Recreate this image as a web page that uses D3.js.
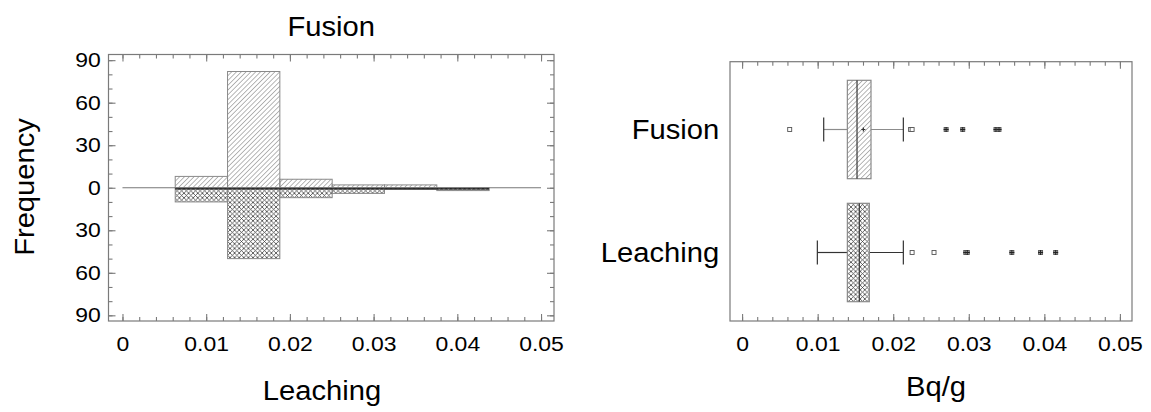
<!DOCTYPE html>
<html>
<head>
<meta charset="utf-8">
<script src="https://cdn.jsdelivr.net/npm/d3@7"></script>
<style>
  html, body { margin: 0; padding: 0; background: #fff; }
  svg { display: block; font-family: "Liberation Sans", Arial, sans-serif; }
</style>
</head>
<body>
<svg id="chart" width="1151" height="412"></svg>
<script>
// Histogram bin edges (Bq/g) shared by both samples
const binEdges = [0.0063, 0.01255, 0.0188, 0.02505, 0.0313, 0.03755, 0.0438];
// Counts per bin: Fusion drawn upward, Leaching drawn downward
const fusionCounts = [8, 82, 6, 2, 2, 0];
const leachingCounts = [10, 50, 7, 4, 1, 2];

// Frequency axis ticks (labels shown as absolute values)
const freqTicks = [90, 60, 30, 0, -30, -60, -90];
const xTicks = [0, 0.01, 0.02, 0.03, 0.04, 0.05];

// Box-and-whisker summaries
const boxCategories = ["Fusion", "Leaching"];
const boxWhiskerLow = [0.0108, 0.00996];
const boxQ1 = [0.01393, 0.01393];
const boxMedian = [0.01521, 0.01552];
const boxQ3 = [0.01706, 0.01684];
const boxWhiskerHigh = [0.02134, 0.02134];
const fusionMean = 0.01605;
const fusionOutliers = [0.0063, 0.0223, 0.0225, 0.0270, 0.0292, 0.0336, 0.0340];
const fusionFar = [false, false, false, true, true, true, true];
const leachingOutliers = [0.0225, 0.0254, 0.0296, 0.0298, 0.0357, 0.0395, 0.0415];
const leachingFar = [false, false, true, true, true, true, true];

const svg = d3.select("#chart");
const frameColor = "#7a7a7a";
const tickFont = 20.5;
const tickStretch = 1.12;
const titleFont = 27;
const titleStretch = 1.08;

// Fill patterns
const defs = svg.append("defs");
defs.append("pattern")
  .attr("id", "diag")
  .attr("patternUnits", "userSpaceOnUse")
  .attr("width", 3.4).attr("height", 3.4)
  .attr("patternTransform", "rotate(45)")
  .append("line")
  .attr("x1", 0).attr("y1", 0).attr("x2", 0).attr("y2", 3.4)
  .attr("stroke", "#5e5e5e").attr("stroke-width", 0.9);
const cross = defs.append("pattern")
  .attr("id", "cross")
  .attr("patternUnits", "userSpaceOnUse")
  .attr("width", 4.6).attr("height", 4.6);
cross.append("path")
  .attr("d", "M0,0L4.6,4.6M4.6,0L0,4.6")
  .attr("stroke", "#3e3e3e").attr("stroke-width", 0.8).attr("fill", "none");

// Title text helper (slightly widened glyphs)
function title(g, x, y, txt, rotate) {
  return g.append("text")
    .attr("transform", `translate(${x},${y})${rotate ? " rotate(-90)" : ""} scale(${titleStretch},1)`)
    .attr("text-anchor", "middle").attr("font-size", titleFont).attr("fill", "#000").text(txt);
}

// ---------- Left panel: back-to-back histogram ----------
const L = { left: 108.5, right: 554, top: 54.5, bottom: 321 };
const xL = d3.scaleLinear().domain([-0.00167, 0.05155]).range([L.left, L.right]);
const yL = d3.scaleLinear().domain([-94, 94]).range([L.bottom, L.top]);

const gL = svg.append("g");

const leachBins = leachingCounts.map((c, i) => ({ x0: binEdges[i], x1: binEdges[i + 1], c }));
const fusionBins = fusionCounts.map((c, i) => ({ x0: binEdges[i], x1: binEdges[i + 1], c }));

// Leaching bars (below zero)
gL.selectAll("rect.leach").data(leachBins.filter(d => d.c > 0)).join("rect")
  .attr("class", "leach")
  .attr("x", d => xL(d.x0)).attr("width", d => xL(d.x1) - xL(d.x0))
  .attr("y", yL(0)).attr("height", d => yL(-d.c) - yL(0))
  .attr("fill", "url(#cross)").attr("stroke", "#8a8a8a").attr("stroke-width", 1);

// Fusion bars (above zero)
gL.selectAll("rect.fusion").data(fusionBins.filter(d => d.c > 0)).join("rect")
  .attr("class", "fusion")
  .attr("x", d => xL(d.x0)).attr("width", d => xL(d.x1) - xL(d.x0))
  .attr("y", d => yL(d.c)).attr("height", d => yL(0) - yL(d.c))
  .attr("fill", "url(#diag)").attr("stroke", "#8a8a8a").attr("stroke-width", 1);

// zero reference line
gL.append("line")
  .attr("x1", xL(0)).attr("x2", xL(0.05))
  .attr("y1", yL(0)).attr("y2", yL(0))
  .attr("stroke", "#777").attr("stroke-width", 1);

// dark top edge of the downward bars
gL.selectAll("line.leachTop").data(leachBins.filter(d => d.c > 0)).join("line")
  .attr("class", "leachTop")
  .attr("x1", d => xL(d.x0)).attr("x2", d => xL(d.x1))
  .attr("y1", yL(0) + 1.2).attr("y2", yL(0) + 1.2)
  .attr("stroke", "#111").attr("stroke-width", 1.2);

// frame
gL.append("rect")
  .attr("x", L.left).attr("y", L.top)
  .attr("width", L.right - L.left).attr("height", L.bottom - L.top)
  .attr("fill", "none").attr("stroke", frameColor).attr("stroke-width", 1.2);

function styleAxis(g) {
  g.select(".domain").remove();
  g.selectAll(".tick line").attr("stroke", frameColor).attr("stroke-width", 1.1);
  g.selectAll(".tick text").attr("fill", "#000").attr("font-size", tickFont)
    .attr("font-family", "Liberation Sans, Arial, sans-serif")
    .attr("transform", `scale(${tickStretch},1)`);
}

const xMinor = d3.range(0, 0.0501, 0.002);
const yMinor = d3.range(-90, 91, 10);
const fmtX = d => d === 0 ? "0" : d3.format(".2f")(d);

// bottom axis with labels
gL.append("g").attr("transform", `translate(0,${L.bottom})`)
  .call(d3.axisBottom(xL).tickValues(xTicks).tickSizeInner(-7).tickSizeOuter(0).tickPadding(15).tickFormat(fmtX))
  .call(styleAxis);
gL.append("g").attr("transform", `translate(0,${L.bottom})`)
  .call(d3.axisBottom(xL).tickValues(xMinor).tickSizeInner(-4).tickSizeOuter(0).tickFormat(""))
  .call(styleAxis);
// top ticks
gL.append("g").attr("transform", `translate(0,${L.top})`)
  .call(d3.axisTop(xL).tickValues(xTicks).tickSizeInner(-7).tickSizeOuter(0).tickFormat(""))
  .call(styleAxis);
gL.append("g").attr("transform", `translate(0,${L.top})`)
  .call(d3.axisTop(xL).tickValues(xMinor).tickSizeInner(-4).tickSizeOuter(0).tickFormat(""))
  .call(styleAxis);
// left axis with labels
gL.append("g").attr("transform", `translate(${L.left},0)`)
  .call(d3.axisLeft(yL).tickValues(freqTicks).tickSizeInner(-7).tickSizeOuter(0).tickPadding(7)
    .tickFormat(d => Math.abs(d)))
  .call(styleAxis);
gL.append("g").attr("transform", `translate(${L.left},0)`)
  .call(d3.axisLeft(yL).tickValues(yMinor).tickSizeInner(-4).tickSizeOuter(0).tickFormat(""))
  .call(styleAxis);
// right ticks
gL.append("g").attr("transform", `translate(${L.right},0)`)
  .call(d3.axisRight(yL).tickValues(freqTicks).tickSizeInner(-7).tickSizeOuter(0).tickFormat(""))
  .call(styleAxis);
gL.append("g").attr("transform", `translate(${L.right},0)`)
  .call(d3.axisRight(yL).tickValues(yMinor).tickSizeInner(-4).tickSizeOuter(0).tickFormat(""))
  .call(styleAxis);

// titles
title(gL, (L.left + L.right) / 2, 36, "Fusion");
title(gL, 322, 400, "Leaching");
title(gL, 34, 187, "Frequency", true);

// ---------- Right panel: box-and-whisker plot ----------
const R = { left: 730, right: 1132, top: 61.7, bottom: 321 };
const xR = d3.scaleLinear().domain([-0.0016, 0.0516]).range([R.left, R.right]);
const yR = d3.scalePoint().domain(boxCategories).range([68, 314]).padding(0.5);
const boxH = yR.step() * 0.8;
const capH = 24;

const gR = svg.append("g");

const boxes = boxCategories.map((name, i) => ({
  name, lo: boxWhiskerLow[i], q1: boxQ1[i], med: boxMedian[i], q3: boxQ3[i], hi: boxWhiskerHigh[i],
  fill: i === 0 ? "url(#diag)" : "url(#cross)",
  whisker: i === 0 ? "#8c8c8c" : "#333",
  outliers: (i === 0 ? fusionOutliers : leachingOutliers)
    .map((v, j) => ({ v, far: (i === 0 ? fusionFar : leachingFar)[j] }))
}));

boxes.forEach(b => {
  const cy = yR(b.name);
  const g = gR.append("g");
  // whiskers
  g.append("line").attr("x1", xR(b.lo)).attr("x2", xR(b.q1)).attr("y1", cy).attr("y2", cy)
    .attr("stroke", b.whisker).attr("stroke-width", 1.2);
  g.append("line").attr("x1", xR(b.q3)).attr("x2", xR(b.hi)).attr("y1", cy).attr("y2", cy)
    .attr("stroke", b.whisker).attr("stroke-width", 1.2);
  [b.lo, b.hi].forEach(v => g.append("line")
    .attr("x1", xR(v)).attr("x2", xR(v)).attr("y1", cy - capH / 2).attr("y2", cy + capH / 2)
    .attr("stroke", "#333").attr("stroke-width", 1.2));
  // box
  g.append("rect").attr("x", xR(b.q1)).attr("width", xR(b.q3) - xR(b.q1))
    .attr("y", cy - boxH / 2).attr("height", boxH)
    .attr("fill", b.fill).attr("stroke", "#8a8a8a").attr("stroke-width", 1.2);
  // median
  g.append("line").attr("x1", xR(b.med)).attr("x2", xR(b.med))
    .attr("y1", cy - boxH / 2).attr("y2", cy + boxH / 2)
    .attr("stroke", "#444").attr("stroke-width", 1.3);
  // outliers: open squares (mild), crossed squares (extreme)
  b.outliers.forEach(o => {
    const px = xR(o.v);
    g.append("rect").attr("x", px - 2).attr("y", cy - 2).attr("width", 4).attr("height", 4)
      .attr("fill", o.far ? "#999" : "#fff").attr("stroke", "#555").attr("stroke-width", 0.9);
    if (o.far) {
      g.append("path").attr("d", `M${px - 2.5},${cy}H${px + 2.5}M${px},${cy - 2.5}V${cy + 2.5}`)
        .attr("stroke", "#222").attr("stroke-width", 1);
    }
  });
});

// mean marker on the Fusion box
gR.append("path")
  .attr("d", `M${xR(fusionMean) - 2},${yR("Fusion")}H${xR(fusionMean) + 2}M${xR(fusionMean)},${yR("Fusion") - 2}V${yR("Fusion") + 2}`)
  .attr("stroke", "#333").attr("stroke-width", 1.2);

// frame
gR.append("rect")
  .attr("x", R.left).attr("y", R.top)
  .attr("width", R.right - R.left).attr("height", R.bottom - R.top)
  .attr("fill", "none").attr("stroke", frameColor).attr("stroke-width", 1.2);

gR.append("g").attr("transform", `translate(0,${R.bottom})`)
  .call(d3.axisBottom(xR).tickValues(xTicks).tickSizeInner(-7).tickSizeOuter(0).tickPadding(15).tickFormat(fmtX))
  .call(styleAxis);
gR.append("g").attr("transform", `translate(0,${R.bottom})`)
  .call(d3.axisBottom(xR).tickValues(xMinor).tickSizeInner(-4).tickSizeOuter(0).tickFormat(""))
  .call(styleAxis);
gR.append("g").attr("transform", `translate(0,${R.top})`)
  .call(d3.axisTop(xR).tickValues(xTicks).tickSizeInner(-7).tickSizeOuter(0).tickFormat(""))
  .call(styleAxis);
gR.append("g").attr("transform", `translate(0,${R.top})`)
  .call(d3.axisTop(xR).tickValues(xMinor).tickSizeInner(-4).tickSizeOuter(0).tickFormat(""))
  .call(styleAxis);

// category labels
gR.append("g").attr("transform", `translate(${R.left},0)`)
  .call(d3.axisLeft(yR).tickSize(0).tickPadding(10))
  .call(g => {
    g.select(".domain").remove();
    g.selectAll(".tick text").attr("font-size", titleFont).attr("fill", "#000")
      .attr("font-family", "Liberation Sans, Arial, sans-serif")
      .attr("transform", `scale(${titleStretch},1)`);
  });

title(gR, 936, 396, "Bq/g");
</script>
</body>
</html>
